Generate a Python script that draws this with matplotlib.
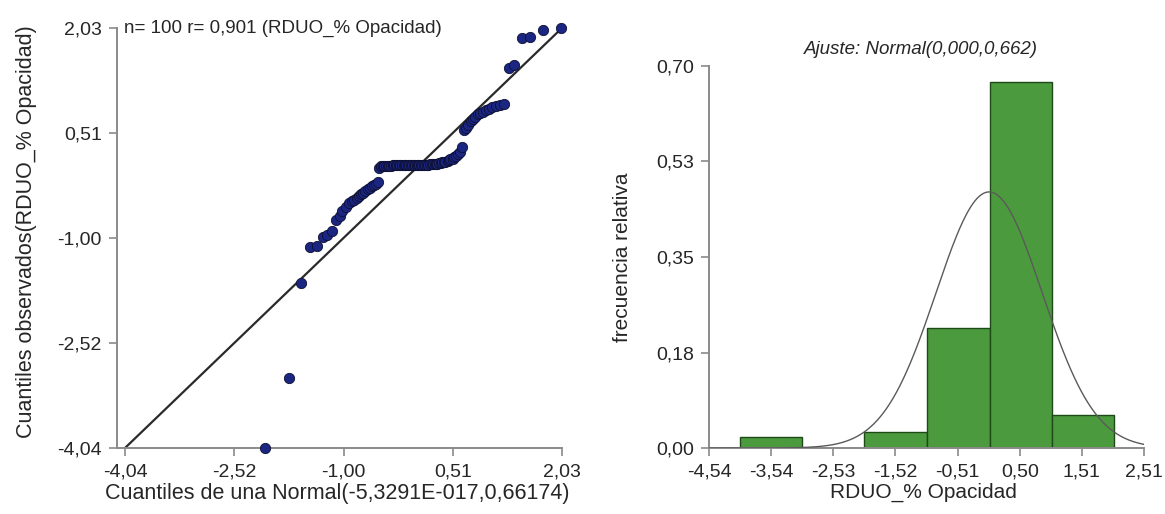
import numpy as np
import matplotlib
matplotlib.use('Agg')
import matplotlib.pyplot as plt

plt.rcParams['font.family'] = ['Liberation Sans', 'DejaVu Sans']

# QQ plot: cuantiles teóricos (x) y observados (y)
cuantiles_normal = [
    -2.09, -1.76, -1.59, -1.47, -1.37, -1.29, -1.23, -1.17, -1.11, -1.06,
    -1.02, -0.97, -0.93, -0.89, -0.86, -0.82, -0.79, -0.76, -0.73, -0.70,
    -0.67, -0.64, -0.61, -0.58, -0.56, -0.53, -0.51, -0.48, -0.46, -0.44,
    -0.41, -0.39, -0.37, -0.35, -0.32, -0.30, -0.28, -0.26, -0.24, -0.22,
    -0.19, -0.17, -0.15, -0.13, -0.11, -0.09, -0.07, -0.05, -0.03, -0.01,
    0.01, 0.03, 0.05, 0.07, 0.09, 0.11, 0.13, 0.15, 0.17, 0.19,
    0.22, 0.24, 0.26, 0.28, 0.30, 0.32, 0.35, 0.37, 0.39, 0.41,
    0.44, 0.46, 0.48, 0.51, 0.53, 0.56, 0.58, 0.61, 0.64, 0.67,
    0.70, 0.73, 0.76, 0.79, 0.82, 0.86, 0.89, 0.93, 0.97, 1.02,
    1.06, 1.11, 1.17, 1.23, 1.29, 1.37, 1.47, 1.59, 1.76, 2.02,
]
cuantiles_obs = [
    -4.04, -3.03, -1.65, -1.13, -1.12, -0.99, -0.96, -0.90, -0.74, -0.69,
    -0.62, -0.55, -0.50, -0.47, -0.45, -0.42, -0.40, -0.37, -0.35, -0.33,
    -0.30, -0.28, -0.26, -0.24, -0.22, -0.20, 0.00, 0.03, 0.04, 0.04,
    0.04, 0.04, 0.04, 0.04, 0.05, 0.05, 0.05, 0.05, 0.05, 0.05,
    0.05, 0.05, 0.05, 0.05, 0.05, 0.05, 0.05, 0.05, 0.05, 0.05,
    0.05, 0.05, 0.05, 0.05, 0.05, 0.05, 0.05, 0.05, 0.05, 0.06,
    0.06, 0.06, 0.06, 0.07, 0.07, 0.08, 0.08, 0.09, 0.10, 0.10,
    0.11, 0.12, 0.13, 0.14, 0.16, 0.18, 0.21, 0.24, 0.31, 0.55,
    0.59, 0.63, 0.68, 0.72, 0.75, 0.78, 0.80, 0.82, 0.84, 0.86,
    0.89, 0.90, 0.92, 0.93, 1.45, 1.50, 1.89, 1.90, 2.00, 2.03,
]
qq_ticks = [-4.04, -2.5225, -1.005, 0.5125, 2.03]
qq_labels = ['-4,04', '-2,52', '-1,00', '0,51', '2,03']

# Histograma de frecuencias relativas
bordes = [-4.04, -3.03, -2.02, -1.01, 0.01, 1.02, 2.03]
frec_rel = [0.02, 0.00, 0.03, 0.22, 0.67, 0.06]
ajuste_media = 0.0
ajuste_sd = 0.86
hist_xticks = [-4.54, -3.533, -2.526, -1.519, -0.511, 0.496, 1.503, 2.51]
hist_xlabels = ['-4,54', '-3,54', '-2,53', '-1,52', '-0,51', '0,50', '1,51', '2,51']
hist_yticks = [0.0, 0.175, 0.35, 0.525, 0.70]
hist_ylabels = ['0,00', '0,18', '0,35', '0,53', '0,70']

txt = '#262626'
spine = '#8a8a8a'

fig = plt.figure(figsize=(11.65, 5.14), dpi=100)
W, H = 1165, 514


def estilo(ax):
    for s in ['top', 'right']:
        ax.spines[s].set_visible(False)
    for s in ['left', 'bottom']:
        ax.spines[s].set_color(spine)
        ax.spines[s].set_linewidth(1.4)
    ax.tick_params(colors=spine, labelcolor=txt, labelsize=14, length=6, width=1.2, pad=5)


# --- QQ plot ---
# eje x: -4,04 en x=125 px y 2,03 en x=562 px; el eje vertical queda algo a la izquierda
lo, hi = qq_ticks[0], qq_ticks[-1]
ppu = (562 - 125) / (hi - lo)
x_left = 117
ax1 = fig.add_axes([x_left / W, 1 - 448 / H, (562 - x_left) / W, 420 / H])
estilo(ax1)
ax1.plot([lo, hi], [lo, hi], color='#2a2a2a', lw=1.6, zorder=2)
ax1.scatter(cuantiles_normal, cuantiles_obs, s=55, color='#1b2683',
            edgecolors='#0d1030', linewidths=0.6, zorder=3, clip_on=False)
ax1.set_xlim(lo - (125 - x_left) / ppu, hi)
ax1.set_ylim(lo, hi)
ax1.set_xticks(qq_ticks)
ax1.set_xticklabels(qq_labels)
ax1.set_yticks(qq_ticks)
ax1.set_yticklabels(qq_labels)
fig.text(124 / W, 1 - 28 / H, 'n= 100 r= 0,901 (RDUO_% Opacidad)',
         fontsize=13.5, color=txt, va='center', ha='left')
fig.text(337 / W, 1 - 493 / H, 'Cuantiles de una Normal(-5,3291E-017,0,66174)',
         fontsize=15.5, color=txt, ha='center', va='center')
fig.text(27 / W, 1 - 232 / H, 'Cuantiles observados(RDUO_% Opacidad)',
         fontsize=15.5, color=txt, ha='center', va='center', rotation=90)

# --- Histograma ---
ax2 = fig.add_axes([709 / W, 1 - 448 / H, 435 / W, 382 / H])
estilo(ax2)
bordes = np.array(bordes)
anchos = np.diff(bordes)
ax2.bar(bordes[:-1], frec_rel, width=anchos, align='edge', color='#4c9a3e',
        edgecolor='#1e4a18', linewidth=1.0, zorder=2)
xs = np.linspace(hist_xticks[0], hist_xticks[-1], 400)
ancho = anchos.mean()
curva = ancho * np.exp(-0.5 * ((xs - ajuste_media) / ajuste_sd) ** 2) / (ajuste_sd * np.sqrt(2 * np.pi))
ax2.plot(xs, curva, color='#5a5a5a', lw=1.0, zorder=3)
ax2.set_xlim(hist_xticks[0], hist_xticks[-1])
ax2.set_ylim(0, 0.70)
ax2.set_xticks(hist_xticks)
ax2.set_xticklabels(hist_xlabels)
ax2.set_yticks(hist_yticks)
ax2.set_yticklabels(hist_ylabels)
fig.text(921 / W, 1 - 50 / H, 'Ajuste: Normal(0,000,0,662)', fontsize=13.5, style='italic',
         color=txt, ha='center', va='center')
fig.text(923 / W, 1 - 492 / H, 'RDUO_% Opacidad', fontsize=15, color=txt,
         ha='center', va='center')
fig.text(622 / W, 1 - 257 / H, 'frecuencia relativa', fontsize=15, color=txt,
         ha='center', va='center', rotation=90)

fig.savefig('out.png', dpi=100)
